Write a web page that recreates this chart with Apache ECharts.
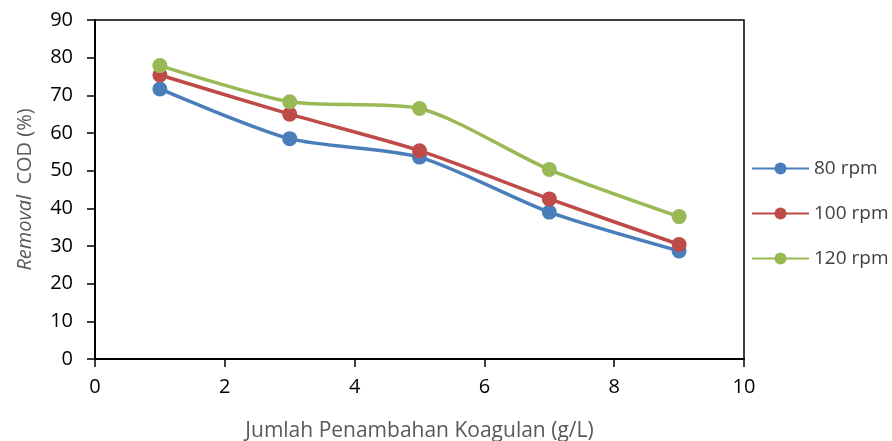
<!DOCTYPE html>
<html><head><meta charset="utf-8">
<script src="https://cdn.jsdelivr.net/npm/echarts@6/dist/echarts.min.js"></script>
<style>html,body{margin:0;padding:0;background:#fff}#c{width:892px;height:441px}</style>
</head><body><div id="c"></div>
<script>
const xValues = [1, 3, 5, 7, 9];
const rpm80 = [71.7, 58.5, 53.6, 39.0, 28.7];
const rpm100 = [75.4, 65.0, 55.3, 42.5, 30.4];
const rpm120 = [77.9, 68.3, 66.5, 50.3, 37.8];
const seriesNames = ['80 rpm', '100 rpm', '120 rpm'];
const colors = ['#4a7ebb', '#be4b48', '#98b954'];
const font = '"Open Sans", "Noto Sans", sans-serif';

function pairs(ys) { return xValues.map((x, i) => [x, ys[i]]); }
const data = [rpm80, rpm100, rpm120];

const chart = echarts.init(document.getElementById('c'));
chart.setOption({
  animation: false,
  grid: { left: 95, right: 148, top: 20, bottom: 82, show: true, borderColor: '#000', borderWidth: 1.5,
          containLabel: false, outerBoundsMode: 'none' },
  legend: {
    orient: 'vertical', left: 746, top: 154, itemGap: 26,
    itemWidth: 57, itemHeight: 15,
    textStyle: { fontFamily: font, fontSize: 19, color: '#404040' },
    data: seriesNames
  },
  xAxis: {
    type: 'value', min: 0, max: 10, interval: 2,
    name: 'Jumlah Penambahan Koagulan (g/L)', nameLocation: 'middle', nameGap: 62,
    nameTextStyle: { fontFamily: font, fontSize: 21, color: '#595959' },
    axisLine: { lineStyle: { color: '#000', width: 2 } },
    axisTick: { show: true, inside: false, length: 8, lineStyle: { color: '#000', width: 1.5 } },
    axisLabel: { fontFamily: font, fontSize: 20, fontWeight: 500, color: '#000', margin: 18 },
    splitLine: { show: false }
  },
  yAxis: {
    type: 'value', min: 0, max: 90, interval: 10,
    name: '{i|Removal}  COD (%)', nameLocation: 'middle', nameGap: 60,
    nameTextStyle: { fontFamily: font, fontSize: 20, color: '#595959',
      rich: { i: { fontStyle: 'italic', fontFamily: font, fontSize: 20, color: '#595959' } } },
    axisLine: { show: true, lineStyle: { color: '#000', width: 2 } },
    axisTick: { show: true, length: 8, lineStyle: { color: '#000', width: 1.5 } },
    axisLabel: { fontFamily: font, fontSize: 20, fontWeight: 500, color: '#000', margin: 22 },
    splitLine: { show: false }
  },
  series: data.map((d, i) => ({
    name: seriesNames[i], type: 'line', data: pairs(d), smooth: 0.25,
    symbol: 'circle', symbolSize: 15,
    lineStyle: { color: colors[i], width: 3.5 },
    itemStyle: { color: colors[i] }
  }))
});
</script></body></html>
